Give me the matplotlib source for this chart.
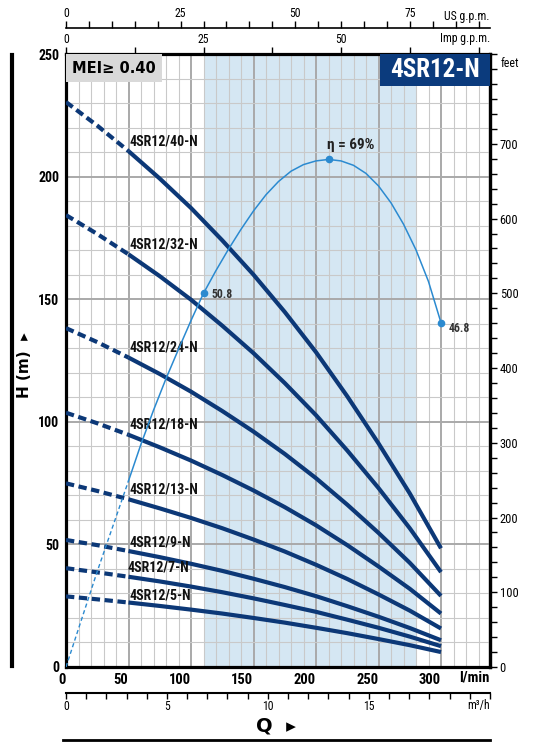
import numpy as np
import matplotlib
matplotlib.use('Agg')
from matplotlib import pyplot as plt
from matplotlib import font_manager as fm
from matplotlib.lines import Line2D
from matplotlib.patches import Rectangle

# flow points (l/min) for the pump curves
q = [0, 25, 50, 75, 100, 125, 150, 175, 200, 225, 250, 275, 300]

# head (m)
h40 = [230.4, 220.8, 210.4, 199.2, 187.2, 174.0, 160.0, 144.8, 128.4, 110.4, 91.2, 70.8, 48.4]
h32 = [184.3, 176.6, 168.3, 159.4, 149.8, 139.2, 128.0, 115.8, 102.7, 88.3, 73.0, 56.6, 38.7]
h24 = [138.2, 132.5, 126.2, 119.5, 112.3, 104.4, 96.0, 86.9, 77.0, 66.2, 54.7, 42.5, 29.0]
h18 = [103.7, 99.4, 94.7, 89.6, 84.2, 78.3, 72.0, 65.2, 57.8, 49.7, 41.0, 31.9, 21.8]
h13 = [74.9, 71.8, 68.4, 64.7, 60.8, 56.6, 52.0, 47.1, 41.7, 35.9, 29.6, 23.0, 15.7]
h9 = [51.8, 49.7, 47.3, 44.8, 42.1, 39.2, 36.0, 32.6, 28.9, 24.8, 20.5, 15.9, 10.9]
h7 = [40.3, 38.6, 36.8, 34.9, 32.8, 30.5, 28.0, 25.3, 22.5, 19.3, 16.0, 12.4, 8.5]
h5 = [28.8, 27.6, 26.3, 24.9, 23.4, 21.8, 20.0, 18.1, 16.0, 13.8, 11.4, 8.9, 6.1]
names = ['4SR12/40-N', '4SR12/32-N', '4SR12/24-N', '4SR12/18-N',
         '4SR12/13-N', '4SR12/9-N', '4SR12/7-N', '4SR12/5-N']
heads = [h40, h32, h24, h18, h13, h9, h7, h5]

# efficiency curve (%)
eta_q = [0, 25, 50, 60, 70, 80, 90, 100, 110, 120, 130, 140, 150, 160, 170, 180, 190,
         200, 210, 220, 230, 240, 250, 260, 270, 280, 290, 300]
eta = [0, 13.0, 25.3, 30.3, 34.9, 39.2, 43.2, 47.1, 50.8, 53.9, 56.8, 59.5, 62.0, 64.2,
       66.0, 67.4, 68.3, 68.8, 69.0, 68.8, 68.2, 67.1, 65.4, 63.1, 60.2, 56.7, 52.4, 46.8]
eta_marks_q = [110, 210, 300]
eta_marks = [50.8, 69.0, 46.8]

q_range = (110, 280)   # shaded band

# fonts: try a narrow family for the condensed look
fams = {f.name for f in fm.fontManager.ttflist}
narrow = 'DejaVu Sans'
stretch = 'normal'
for cand in ['Liberation Sans Narrow', 'Roboto Condensed', 'Open Sans Condensed']:
    if cand in fams:
        narrow = cand
        break
else:
    if any('Condensed' in f.fname and f.name == 'DejaVu Sans' for f in fm.fontManager.ttflist):
        stretch = 'condensed'
nf = dict(family=narrow, stretch=stretch)

navy = '#0c3877'
blue = '#2b8ad0'
W, H = 539, 755

fig = plt.figure(figsize=(W/100, H/100), dpi=100)
ax = fig.add_axes([66/W, 88/H, 424/W, 613/H])
ax.set_xlim(0, 339.2)
ax.set_ylim(0, 250)

ax.axvspan(*q_range, color='#d5e7f3', zorder=0, lw=0)
ax.set_axisbelow(True)
ax.set_xticks(range(0, 301, 50))
ax.set_xticks(range(0, 340, 10), minor=True)
ax.set_yticks(range(0, 251, 50))
ax.set_yticks(range(0, 251, 10), minor=True)
ax.grid(which='minor', color='#c9c9c9', lw=0.8)
ax.grid(which='major', color='#a9a9a9', lw=1.4)
ax.tick_params(which='both', length=0)
ax.tick_params(axis='y', pad=5)
ax.tick_params(axis='x', pad=4)
for s in ax.spines.values():
    s.set_linewidth(2.3)
for lab in ax.get_yticklabels():
    lab.set_fontweight('bold'); lab.set_fontsize(10); lab.set(**nf)
for lab in ax.get_xticklabels():
    lab.set_fontweight('bold'); lab.set_fontsize(10.5); lab.set(**nf); lab.set_ha('right')

# pump curves: dashed up to 50 l/min, solid after
for h in heads:
    ax.plot(q[:3], h[:3], color=navy, lw=3, dashes=(2.0, 1.1), dash_capstyle='butt', zorder=3)
    ax.plot(q[2:], h[2:], color=navy, lw=3, solid_capstyle='butt', zorder=3)

label_y = [214.5, 172.5, 130.5, 99.0, 72.4, 50.8, 40.6, 29.2]
for name, ly in zip(names, label_y):
    lx = 50.5 if name != '4SR12/7-N' else 49
    ax.text(lx, ly, name, fontsize=10, fontweight='bold', va='center', ha='left',
            color='#111111', zorder=4, **nf)

# efficiency curve drawn on the head scale (100 % = 300 m)
eq = np.array(eta_q)
ee = np.array(eta) * 3
ax.plot(eq[eq <= 50], ee[eq <= 50], color=blue, lw=1.0, dashes=(3, 2), zorder=5)
ax.plot(eq[eq >= 50], ee[eq >= 50], color=blue, lw=1.1, zorder=5)
ax.plot(eta_marks_q, np.array(eta_marks) * 3, 'o', color=blue, ms=4.5, zorder=6)
ax.text(eta_marks_q[0] + 6.5, eta_marks[0] * 3 - 0.5, '%.1f' % eta_marks[0], fontsize=8.5,
        fontweight='bold', va='center', color='#333333', **nf)
ax.text(eta_marks_q[2] + 6, eta_marks[2] * 3 - 2.5, '%.1f' % eta_marks[2], fontsize=8.5,
        fontweight='bold', va='center', color='#333333', **nf)
ax.text(eta_marks_q[1] - 1, eta_marks[1] * 3 + 6, 'η = %d%%' % eta_marks[1], fontsize=11,
        fontweight='bold', va='center', ha='left', color='#222222', **nf)

# MEI and model boxes
ax.add_patch(Rectangle((0, (667-82)/613), 96/424, 1 - (667-82)/613, transform=ax.transAxes,
                       color='#d9d9d9', zorder=6, lw=0))
ax.text(48/424, 1 - 14/613, 'MEI≥ 0.40', transform=ax.transAxes, fontsize=10.5,
        fontweight='bold', ha='center', va='center', zorder=7)
ax.add_patch(Rectangle((314/424, (667-86)/613), 110/424, 1 - (667-86)/613,
                       transform=ax.transAxes, color='#0b3b7d', zorder=6, lw=0))
ax.text(369/424, 1 - 16/613, '4SR12-N', transform=ax.transAxes, fontsize=18,
        fontweight='bold', color='white', ha='center', va='center', zorder=7, **nf)

# secondary scales (the reference draws them ~3 % wider than the l/min grid)
SEC = 1.032
ft = ax.secondary_yaxis('right', functions=(lambda m: m / 0.3048, lambda f: f * 0.3048))
ft.set_yticks(range(0, 701, 100))
ft.set_yticks(range(0, 821, 20), minor=True)
ft.tick_params(which='both', length=5, width=1, pad=2, labelsize=9)
ft.spines['right'].set_linewidth(2.3)
for lab in ft.get_yticklabels():
    lab.set(**nf)
ax.text(1.025, 1 - 9/613, 'feet', transform=ax.transAxes, fontsize=8.5, va='center', **nf)

imp = ax.secondary_xaxis('top', functions=(lambda x: x * SEC / 4.546, lambda g: g * 4.546 / SEC))
imp_t = np.arange(0, 76, 12.5)
imp.set_xticks(imp_t, ['%d' % t if t % 25 == 0 and t < 75 else '' for t in imp_t])
imp.tick_params(length=5, width=1, pad=1, labelsize=8.5)
imp.spines['top'].set_visible(False)
for lab in imp.get_xticklabels():
    lab.set(**nf)
ax.text(1.0, 1 + 16/613, 'Imp g.p.m.', transform=ax.transAxes, fontsize=8.5, ha='right',
        va='center', **nf)

us = ax.secondary_xaxis(1 + 26/613, functions=(lambda x: x * SEC / 3.785, lambda g: g * 3.785 / SEC))
us_t = np.arange(0, 91, 5)
us.set_xticks(us_t, ['%d' % t if t % 25 == 0 else '' for t in us_t])
us.tick_params(length=5, width=1, pad=1, labelsize=8.5)
us.spines['top'].set_linewidth(1.2)
for lab in us.get_xticklabels():
    lab.set(**nf)
ax.text(1.0, 1 + 38/613, 'US g.p.m.', transform=ax.transAxes, fontsize=8.5, ha='right',
        va='center', **nf)

m3 = ax.secondary_xaxis(-26/613, functions=(lambda x: x * SEC * 0.06, lambda m: m / (SEC * 0.06)))
m3_t = np.arange(0, 22, 1)
m3.set_xticks(m3_t, ['%d' % t if t % 5 == 0 and t < 20 else '' for t in m3_t])
m3.tick_params(length=4, width=1, pad=1, labelsize=8.5)
m3.spines['bottom'].set_linewidth(1.5)
for lab in m3.get_xticklabels():
    lab.set(**nf)
ax.text(1.0, -38/613, 'm³/h', transform=ax.transAxes, fontsize=8.5, ha='right',
        va='center', **nf)
ax.text(1.0, -10/613, 'l/min', transform=ax.transAxes, fontsize=10.5, fontweight='bold',
        ha='right', va='center', **nf)

# axis titles and decorative bars
fig.text(25/W, 1 - 365/H, 'H (m)  ▸', rotation=90, fontsize=11, fontweight='bold',
         ha='center', va='center')
fig.text(276/W, 1 - 726/H, 'Q  ▸', fontsize=14, fontweight='bold', ha='center', va='center')
fig.add_artist(Line2D([12.5/W, 12.5/W], [1 - 55/H, 1 - 666/H], color='black', lw=3))
fig.add_artist(Line2D([63/W, 490/W], [1 - 740/H, 1 - 740/H], color='black', lw=2))

fig.savefig('out.png', dpi=100)
